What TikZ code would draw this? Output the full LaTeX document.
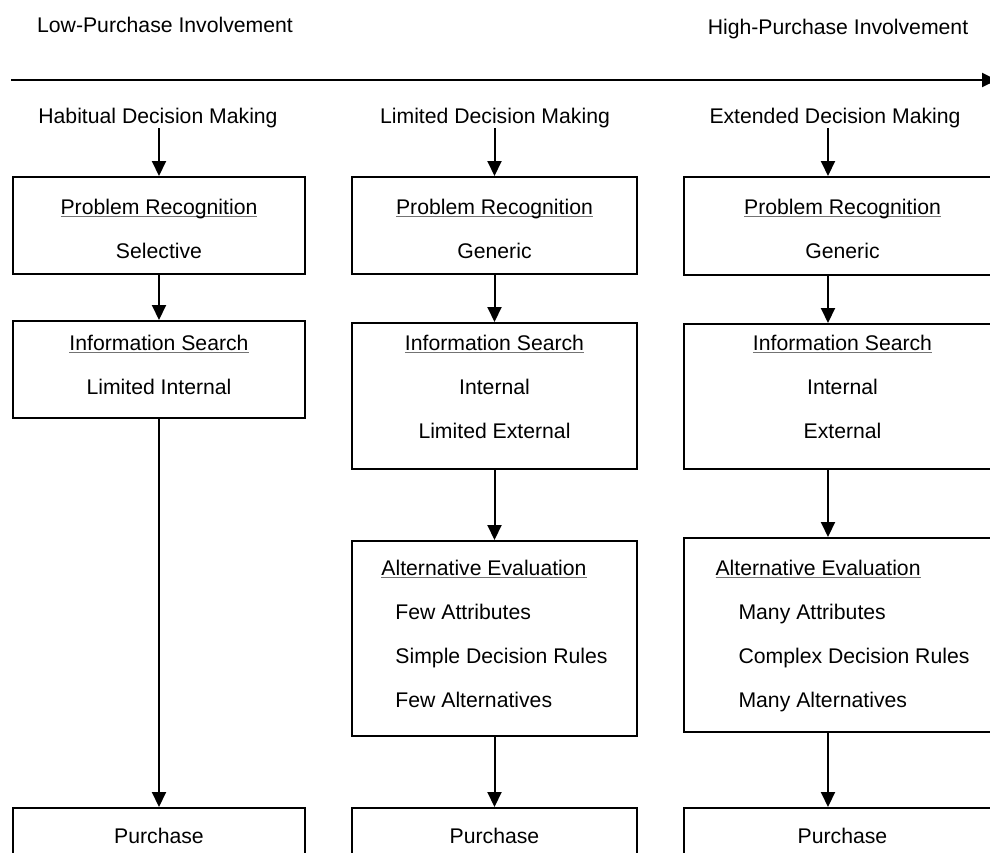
\documentclass[tikz,border=0pt]{standalone}
\usepackage{fontspec}
\setmainfont{Liberation Sans}
\usetikzlibrary{arrows.meta}
\tikzset{>={Triangle[width=7pt,length=7.5pt]}}
\newcommand{\undl}[1]{\setbox0=\hbox{#1}\rlap{\color{black!55}\rule[-1.6pt]{\wd0}{0.6pt}}\box0}

\begin{document}
\begin{tikzpicture}[x=0.5pt, y=-0.5pt, line width=1pt,
  font=\fontsize{10.6}{22}\selectfont,
  txt/.style = {inner sep=0pt, anchor=base},
  box/.style = {draw, anchor=north west, inner ysep=0pt, align=center}]
\useasboundingbox (0,0) rectangle (990,852);
\clip (0,0) rectangle (990,852);
% involvement axis
\node[txt] (low) at (165,32) {Low-Purchase Involvement};
\node[txt] (high) at (838,34) {High-Purchase Involvement};
\coordinate (axl) at (11,80);
\coordinate (axr) at (997,80);
\draw[->] (axl) -- (axr);
% column heads
\node[txt] (head1) at (158,123) {Habitual Decision Making};
\node[txt] (head2) at (495,123) {Limited Decision Making};
\node[txt] (head3) at (835,123) {Extended Decision Making};
\coordinate (c3) at (828,0);
% habitual
\node[box, minimum width=146pt, text height=40.5pt, text depth=8pt] (pr1) at (12,176) {\undl{Problem Recognition}\\Selective};
\node[box, minimum width=146pt, text height=36.5pt, text depth=12pt] (is1) at (12,320) {\undl{Information Search}\\Limited Internal};
\node[box, minimum width=146pt, text height=17.5pt, text depth=30pt] (p1) at (12,807) {Purchase};
% limited
\node[box, minimum width=142.5pt, text height=40.5pt, text depth=8pt] (pr2) at (351,176) {\undl{Problem Recognition}\\Generic};
\node[box, minimum width=142.5pt, text height=57.5pt, text depth=15.5pt] (is2) at (351,322) {\undl{Information Search}\\Internal\\Limited External};
\node[box, minimum width=142.5pt, text height=83pt, text depth=14.5pt, align=left] (ae2) at (351,540) {\undl{Alternative Evaluation}\\\hspace*{7pt}Few Attributes\\\hspace*{7pt}Simple Decision Rules\\\hspace*{7pt}Few Alternatives};
\node[box, minimum width=142.5pt, text height=17.5pt, text depth=30pt] (p2) at (351,807) {Purchase};
% extended
\node[box, minimum width=158.5pt, text height=40.5pt, text depth=8.5pt] (pr3) at (683,176) {\undl{Problem Recognition}\\Generic};
\node[box, minimum width=158.5pt, text height=57pt, text depth=15.5pt] (is3) at (683,323) {\undl{Information Search}\\Internal\\External};
\node[box, minimum width=158.5pt, text height=84.5pt, text depth=12.5pt, align=left] (ae3) at (683,537) {\undl{Alternative Evaluation}\\\hspace*{11.5pt}Many Attributes\\\hspace*{11.5pt}Complex Decision Rules\\\hspace*{11.5pt}Many Alternatives};
\node[box, minimum width=158.5pt, text height=17.5pt, text depth=30pt] (p3) at (683,807) {Purchase};
% arrows
\draw[->] (head1.south -| pr1.north) -- (pr1.north);
\draw[->] (pr1) -- (is1);
\draw[->] (is1) -- (p1);
\draw[->] (head2.south -| pr2.north) -- (pr2.north);
\draw[->] (pr2) -- (is2);
\draw[->] (is2) -- (ae2);
\draw[->] (ae2) -- (p2);
\draw[->] (head3.south -| c3) -- (pr3.north -| c3);
\draw[->] (pr3.south -| c3) -- (is3.north -| c3);
\draw[->] (is3.south -| c3) -- (ae3.north -| c3);
\draw[->] (ae3.south -| c3) -- (p3.north -| c3);
\end{tikzpicture}
\end{document}
